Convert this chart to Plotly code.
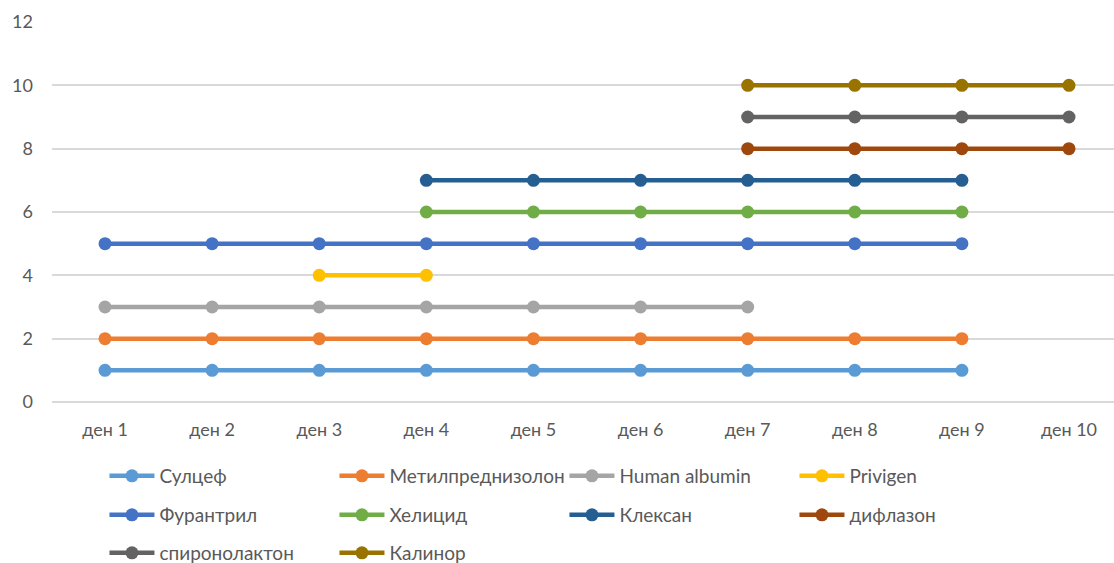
import plotly.graph_objects as go

days = ["ден 1", "ден 2", "ден 3", "ден 4", "ден 5", "ден 6", "ден 7", "ден 8", "ден 9", "ден 10"]

names = ["Сулцеф", "Метилпреднизолон", "Human albumin", "Privigen", "Фурантрил",
         "Хелицид", "Клексан", "дифлазон", "спиронолактон", "Калинор"]

sulcef = [1, 1, 1, 1, 1, 1, 1, 1, 1, None]
metilpred = [2, 2, 2, 2, 2, 2, 2, 2, 2, None]
albumin = [3, 3, 3, 3, 3, 3, 3, None, None, None]
privigen = [None, None, 4, 4, None, None, None, None, None, None]
furantril = [5, 5, 5, 5, 5, 5, 5, 5, 5, None]
helicid = [None, None, None, 6, 6, 6, 6, 6, 6, None]
kleksan = [None, None, None, 7, 7, 7, 7, 7, 7, None]
diflazon = [None, None, None, None, None, None, 8, 8, 8, 8]
spironolakton = [None, None, None, None, None, None, 9, 9, 9, 9]
kalinor = [None, None, None, None, None, None, 10, 10, 10, 10]

series = [sulcef, metilpred, albumin, privigen, furantril, helicid, kleksan,
          diflazon, spironolakton, kalinor]
colors = ["#5B9BD5", "#ED7D31", "#A5A5A5", "#FFC000", "#4472C4",
          "#70AD47", "#255E91", "#9E480E", "#636363", "#997300"]
legend_rows = ["legend", "legend", "legend", "legend",
               "legend2", "legend2", "legend2", "legend2",
               "legend3", "legend3"]

fig = go.Figure()
for name, vals, col, lg in zip(names, series, colors, legend_rows):
    fig.add_trace(go.Scatter(
        x=days, y=vals, name=name, mode="lines+markers",
        line=dict(color=col, width=4.5),
        marker=dict(color=col, size=13),
        connectgaps=False, legend=lg,
    ))

font_family = "Lato, 'Open Sans', sans-serif"
txt = "#595959"


def leg(center_y):
    return dict(orientation="h", x=0.0494, xanchor="left", y=1 - center_y / 563,
                yref="container", yanchor="middle", entrywidth=170,
                entrywidthmode="pixels", font=dict(size=19, color=txt),
                itemwidth=45, bgcolor="rgba(0,0,0,0)")


fig.update_layout(
    width=1114, height=563,
    margin=dict(l=52, r=0, t=22, b=161),
    paper_bgcolor="white", plot_bgcolor="white",
    font=dict(family=font_family, size=18, color=txt),
    xaxis=dict(range=[-0.495, 9.42], showgrid=False, showline=False,
               ticks="", tickfont=dict(size=18, color=txt), zeroline=False,
               ticklabelstandoff=15),
    yaxis=dict(range=[0, 12], tickvals=[0, 2, 4, 6, 8, 10, 12], showgrid=True,
               gridcolor="#D9D9D9", gridwidth=1.5, zeroline=True, zerolinecolor="#D9D9D9",
               zerolinewidth=1.5, showline=False, ticks="",
               tickfont=dict(size=18, color=txt), ticklabelstandoff=18),
    legend=leg(476),
    legend2=leg(515),
    legend3=leg(553),
    showlegend=True,
)

fig.write_html("out.html")
